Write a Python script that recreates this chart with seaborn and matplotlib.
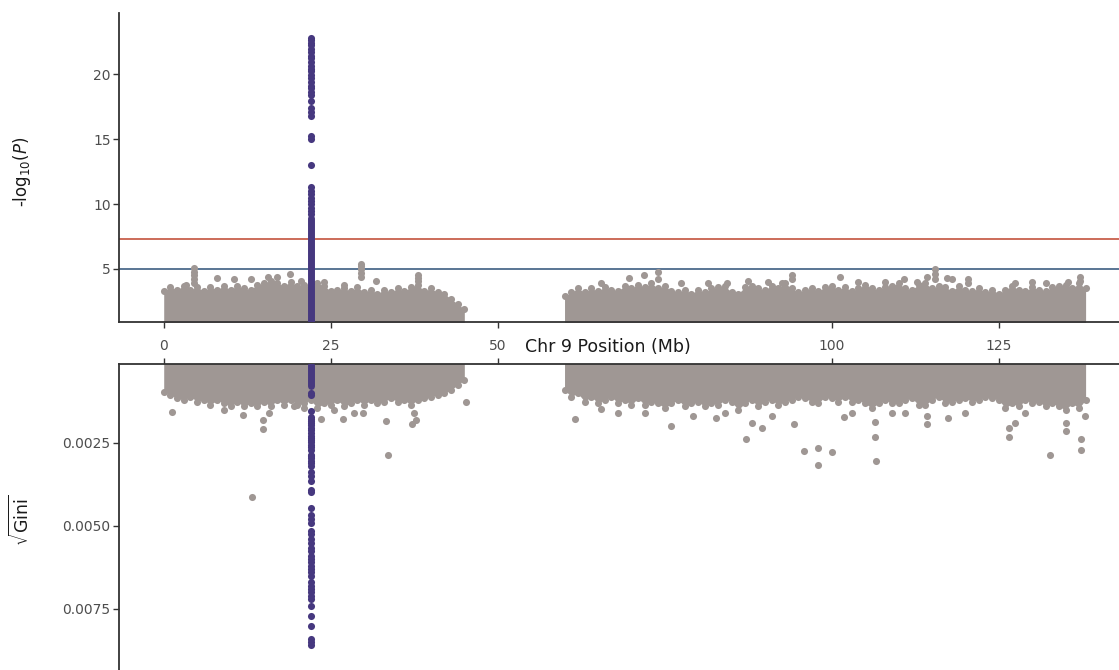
import matplotlib
matplotlib.use("Agg")
import matplotlib.pyplot as plt
import numpy as np
import pandas as pd
import seaborn as sns

# chromosome 9 positions (Mb) of the binned SNP cloud, p-arm and q-arm
arm_p_mb = [0, 1, 2, 3, 4, 5, 6, 7, 8, 9, 10, 11, 12, 13, 14, 15, 16, 17, 18, 19,
            20, 21, 22, 23, 24, 25, 26, 27, 28, 29, 30, 31, 32, 33, 34, 35, 36, 37, 38, 39,
            40, 41, 42, 43, 44, 45]
arm_q_mb = [60, 61, 62, 63, 64, 65, 66, 67, 68, 69, 70, 71, 72, 73, 74, 75, 76, 77, 78, 79,
            80, 81, 82, 83, 84, 85, 86, 87, 88, 89, 90, 91, 92, 93, 94, 95, 96, 97, 98, 99,
            100, 101, 102, 103, 104, 105, 106, 107, 108, 109, 110, 111, 112, 113, 114, 115, 116, 117, 118, 119,
            120, 121, 122, 123, 124, 125, 126, 127, 128, 129, 130, 131, 132, 133, 134, 135, 136, 137, 138]

# upper edge of the dense -log10(P) cloud per bin
logp_top_p = [3.3, 3.6, 3.4, 3.7, 3.4, 3.6, 3.3, 3.6, 3.4, 3.7, 3.4, 3.7, 3.5, 3.4, 3.8, 3.9, 4.1, 3.9, 3.7, 4.0,
              3.7, 3.8, 3.6, 3.9, 3.7, 3.3, 3.4, 3.5, 3.3, 3.6, 3.2, 3.4, 3.1, 3.4, 3.2, 3.5, 3.3, 3.6, 3.8, 3.3,
              3.5, 3.2, 3.1, 2.7, 2.3, 1.9]
logp_top_q = [2.9, 3.2, 3.5, 3.2, 3.5, 3.3, 3.6, 3.4, 3.3, 3.7, 3.5, 3.8, 3.6, 3.9, 3.5, 3.7, 3.3, 3.2, 3.4, 3.1,
              3.4, 3.2, 3.5, 3.6, 3.7, 3.2, 3.1, 3.6, 3.7, 3.5, 3.4, 3.7, 3.5, 3.9, 3.5, 3.2, 3.4, 3.5, 3.3, 3.6,
              3.7, 3.4, 3.6, 3.3, 3.5, 3.8, 3.5, 3.4, 3.6, 3.7, 3.9, 3.5, 3.4, 3.8, 3.9, 3.5, 3.7, 3.6, 3.3, 3.7,
              3.4, 3.3, 3.5, 3.2, 3.4, 3.1, 3.4, 3.7, 3.4, 3.3, 3.6, 3.4, 3.3, 3.6, 3.7, 3.8, 3.5, 3.9, 3.5]

# lower edge of the dense sqrt(Gini) cloud per bin (x 1e-3)
gini_edge_p = [0.95, 1.05, 1.15, 1.2, 1.1, 1.25, 1.2, 1.35, 1.2, 1.3, 1.4, 1.25, 1.4, 1.3, 1.4, 1.25, 1.4, 1.2, 1.35, 1.2,
               1.35, 1.3, 1.2, 1.45, 1.3, 1.35, 1.2, 1.4, 1.3, 1.2, 1.35, 1.2, 1.3, 1.25, 1.15, 1.25, 1.2, 1.35, 1.2, 1.15,
               1.1, 1.05, 1.0, 0.9, 0.75, 0.6]
gini_edge_q = [0.9, 1.1, 1.0, 1.25, 1.1, 1.3, 1.2, 1.1, 1.3, 1.2, 1.35, 1.15, 1.35, 1.25, 1.3, 1.45, 1.3, 1.2, 1.4, 1.3,
               1.25, 1.4, 1.3, 1.35, 1.2, 1.25, 1.5, 1.3, 1.2, 1.4, 1.25, 1.2, 1.35, 1.25, 1.2, 1.1, 1.15, 1.25, 1.3, 1.1,
               1.15, 1.25, 1.1, 1.25, 1.2, 1.3, 1.45, 1.3, 1.2, 1.3, 1.3, 1.2, 1.15, 1.35, 1.35, 1.2, 1.1, 1.3, 1.25, 1.2,
               1.15, 1.25, 1.2, 1.1, 1.15, 1.2, 1.45, 1.3, 1.4, 1.2, 1.3, 1.25, 1.4, 1.3, 1.4, 1.5, 1.3, 1.45, 1.2]

# isolated SNPs above the cloud, top panel
hit_mb = [3.4, 4.6, 4.6, 4.6, 4.6, 4.6, 8.0, 10.5, 13.1, 15.6, 16.9, 18.9, 20.6, 24.0, 27.0,
          29.6, 29.6, 29.6, 29.6, 29.6, 31.8, 38.1, 38.1, 38.1,
          65.5, 69.6, 71.9, 74.0, 74.0, 77.5, 81.5, 84.3, 87.5, 90.5, 92.5, 94.1, 94.1, 101.3, 104.0,
          108.0, 110.8, 112.8, 114.2, 115.5, 115.5, 115.5, 117.3, 118.0, 120.4, 120.4, 127.5, 130.0,
          132.0, 135.3, 137.1, 137.1]
hit_p = [3.8, 3.9, 4.2, 4.5, 4.8, 5.1, 4.3, 4.2, 4.2, 4.4, 4.4, 4.6, 4.1, 4.0, 3.8,
         4.4, 4.7, 5.0, 5.2, 5.4, 4.1, 4.1, 4.3, 4.5,
         3.9, 4.3, 4.5, 4.75, 4.2, 3.9, 3.9, 3.9, 4.1, 4.0, 3.9, 4.5, 4.2, 4.4, 4.0,
         4.0, 4.2, 4.0, 4.4, 4.2, 4.6, 5.0, 4.3, 4.2, 4.2, 3.9, 3.9, 4.0,
         3.9, 4.0, 4.4, 4.1]

# isolated SNPs below the cloud, bottom panel
tail_mb = [1.2, 9.0, 11.8, 13.2, 14.9, 14.9, 15.7, 19.5, 21.0, 23.6, 25.5, 26.8, 28.5, 29.9,
           33.3, 33.6, 37.1, 37.5, 37.8, 45.2,
           61.5, 65.4, 68.0, 72.0, 75.9, 79.2, 82.7, 84.0, 87.1, 88.0, 89.5, 91.0, 94.4, 95.8,
           97.9, 97.9, 100.1, 101.9, 103.0, 106.5, 106.5, 106.6, 109.0, 111.0, 114.2, 114.2,
           117.4, 120.0, 126.6, 126.6, 127.5, 129.0, 132.6, 135.0, 135.0, 137.3, 137.3, 137.9]
tail_gini = [1.56, 1.5, 1.65, 4.14, 2.07, 1.8, 1.6, 1.4, 1.45, 1.78, 1.5, 1.78, 1.6, 1.6,
             1.85, 2.85, 1.94, 1.6, 1.8, 1.26,
             1.79, 1.48, 1.6, 1.6, 1.98, 1.7, 1.75, 1.6, 2.39, 1.9, 2.05, 1.7, 1.92, 2.73,
             2.65, 3.16, 2.76, 1.72, 1.6, 2.31, 1.87, 3.04, 1.6, 1.6, 1.92, 1.7,
             1.76, 1.6, 2.31, 2.05, 1.9, 1.6, 2.87, 2.14, 1.9, 2.37, 2.72, 1.7]

# lead locus (CDKN2B-AS1 region)
lead_mb = 22.1
lead_solid_p = [1.0, 8.9]
lead_p = [9.2, 9.5, 9.7, 10.0, 10.2, 10.5, 10.8, 11.0, 11.3, 13.0, 15.0, 15.2, 16.8, 17.1, 17.4,
          17.9, 18.4, 18.6, 18.9, 19.1, 19.4, 19.7, 19.9, 20.2, 20.4, 20.6, 20.9, 21.2, 21.4,
          21.7, 21.9, 22.2, 22.4, 22.6, 22.75]
lead_solid_gini = [0.15, 0.78]
lead_gini = [0.98, 1.05, 1.53, 1.72, 1.78, 1.85, 1.9, 1.97, 2.05, 2.12, 2.2, 2.28, 2.35, 2.42,
             2.48, 2.55, 2.62, 2.7, 2.85, 2.9, 2.96, 3.03, 3.1, 3.18, 3.37, 3.48, 3.66, 3.92,
             3.98, 4.45, 4.68, 4.78, 4.9, 5.15, 5.25, 5.4, 5.52, 5.65, 5.75, 5.92, 6.0, 6.1,
             6.2, 6.3, 6.4, 6.5, 6.7, 6.8, 6.9, 7.0, 7.1, 7.2, 7.4, 7.7, 8.0, 8.4, 8.5, 8.6]

genome_wide = 7.3
suggestive = 5.0
x_ticks = [0, 25, 50, 100, 125]

GREY = "#9f9794"
LEAD = "#46387f"
PT_S = 26

sns.set_theme(style="white")
plt.rcParams['font.family'] = ['DejaVu Sans']

fig = plt.figure(figsize=(11.19, 6.70), dpi=100)
ax_p = fig.add_axes([0.1063, 0.5194, 0.8937, 0.4612])
ax_g = fig.add_axes([0.1063, 0.0, 0.8937, 0.4567])

top_df = pd.concat([pd.DataFrame({"mb": arm_p_mb, "p": logp_top_p}),
                    pd.DataFrame({"mb": arm_q_mb, "p": logp_top_q})])
bot_df = pd.concat([pd.DataFrame({"mb": arm_p_mb, "g": np.array(gini_edge_p) / 1000}),
                    pd.DataFrame({"mb": arm_q_mb, "g": np.array(gini_edge_q) / 1000})])

# dense clouds
for mb, top in [(arm_p_mb, logp_top_p), (arm_q_mb, logp_top_q)]:
    ax_p.fill_between(mb, 0, top, color=GREY, lw=0, zorder=2)
for mb, edge in [(arm_p_mb, gini_edge_p), (arm_q_mb, gini_edge_q)]:
    ax_g.fill_between(mb, 0, np.array(edge) / 1000, color=GREY, lw=0, zorder=2)

sns.scatterplot(data=top_df, x="mb", y="p", ax=ax_p, color=GREY, s=PT_S, linewidth=0, zorder=3)
sns.scatterplot(x=hit_mb, y=hit_p, ax=ax_p, color=GREY, s=PT_S, linewidth=0, zorder=3)
sns.scatterplot(data=bot_df, x="mb", y="g", ax=ax_g, color=GREY, s=PT_S, linewidth=0, zorder=3)
sns.scatterplot(x=tail_mb, y=np.array(tail_gini) / 1000, ax=ax_g, color=GREY, s=PT_S,
                linewidth=0, zorder=3)

# lead SNP column
ax_p.vlines(lead_mb, lead_solid_p[0], lead_solid_p[1], color=LEAD, lw=5, zorder=4,
            capstyle="round")
sns.scatterplot(x=[lead_mb] * len(lead_p), y=lead_p, ax=ax_p, color=LEAD, s=PT_S,
                linewidth=0, zorder=5)
ax_g.vlines(lead_mb, lead_solid_gini[0] / 1000, lead_solid_gini[1] / 1000, color=LEAD, lw=5,
            zorder=4, capstyle="round")
sns.scatterplot(x=[lead_mb] * len(lead_gini), y=np.array(lead_gini) / 1000, ax=ax_g,
                color=LEAD, s=PT_S, linewidth=0, zorder=5)

# significance thresholds
ax_p.axhline(genome_wide, color="#c4533d", lw=1.2, zorder=1)
ax_p.axhline(suggestive, color="#3d5d82", lw=1.2, zorder=1)

ax_p.set_xlim(-6.7, 143)
ax_g.set_xlim(-6.7, 143)
ax_p.set_ylim(0.92, 24.7)
ax_g.set_ylim(0.00934, 0.00012)

for ax in (ax_p, ax_g):
    ax.set_xticks(x_ticks)
    ax.tick_params(axis="both", length=4, width=1, color="#333333", labelcolor="#4d4d4d",
                   labelsize=10, pad=2)
    for s in ax.spines.values():
        s.set_color("#333333")
        s.set_linewidth(1.3)
    ax.set_xlabel("")
    ax.set_ylabel("")

ax_p.set_yticks([5, 10, 15, 20])
ax_p.spines["top"].set_visible(False)
ax_p.spines["right"].set_visible(False)
ax_p.tick_params(axis="x", bottom=True, direction="out", pad=8)
ax_p.tick_params(axis="y", left=True)

ax_g.set_yticks([0.0025, 0.005, 0.0075])
ax_g.set_yticklabels(["0.0025", "0.0050", "0.0075"])
ax_g.spines["bottom"].set_visible(False)
ax_g.spines["right"].set_visible(False)
ax_g.xaxis.tick_top()
ax_g.tick_params(axis="x", top=True, labeltop=False, direction="out")
ax_g.tick_params(axis="y", left=True)

ax_p.set_xlabel("Chr 9 Position (Mb)", fontsize=12.5, color="#1a1a1a")
ax_p.xaxis.set_label_coords(0.489, -0.081)
ax_p.xaxis.label.set_va("center")

ax_p.set_ylabel(r"-log$_{10}$($P$)", fontsize=12, color="#1a1a1a", va="center")
ax_p.yaxis.set_label_coords(-0.097, 0.485)
ax_g.set_ylabel(r"$\sqrt{\mathrm{Gini}}$", fontsize=12.5, color="#1a1a1a", va="center")
ax_g.yaxis.set_label_coords(-0.098, 0.49)

fig.savefig("out.png", dpi=100)
